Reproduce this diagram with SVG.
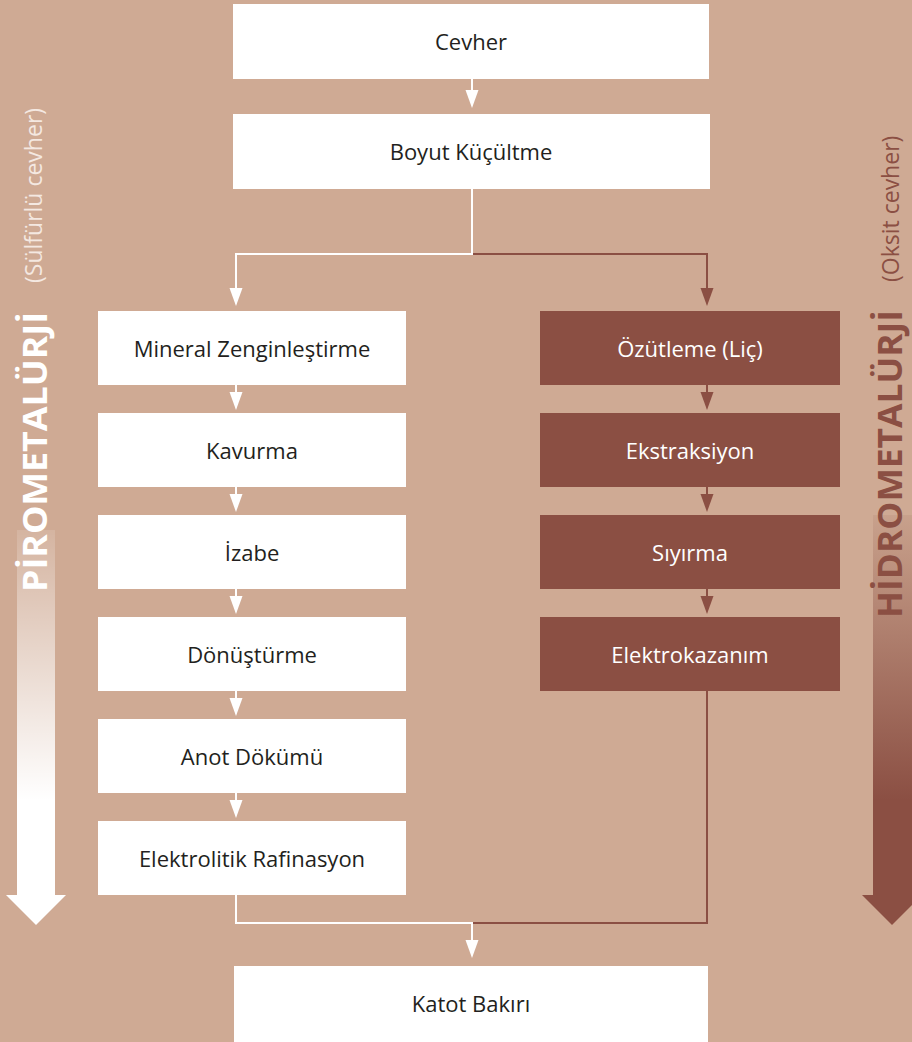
<svg xmlns="http://www.w3.org/2000/svg" width="912" height="1042" viewBox="0 0 912 1042">
<defs>
<style>
.bg{fill:#CFAA94}
.wbox{fill:#FFFFFF}
.bbox{fill:#8B4F43}
.t{font-family:"Open Sans","Noto Sans","DejaVu Sans",sans-serif;font-size:22px;text-anchor:middle}
.tw{fill:#231F20}
.tb{fill:#FFFFFF}
.wl{fill:none;stroke:#FFFFFF;stroke-width:2}
.bl{fill:none;stroke:#8B4F43;stroke-width:2}
.big{font-family:"Open Sans","Noto Sans","DejaVu Sans",sans-serif;font-weight:bold;font-size:34px}
.small{font-family:"Open Sans","Noto Sans","DejaVu Sans",sans-serif;font-size:23px}
</style>
<marker id="aw" markerUnits="userSpaceOnUse" markerWidth="18" markerHeight="14" refX="0" refY="7" orient="auto" viewBox="0 0 18 14"><path d="M0,0.5 L18,7 L0,13.5 Z" fill="#FFFFFF"/></marker>
<marker id="ab" markerUnits="userSpaceOnUse" markerWidth="18" markerHeight="14" refX="0" refY="7" orient="auto" viewBox="0 0 18 14"><path d="M0,0.5 L18,7 L0,13.5 Z" fill="#8B4F43"/></marker>
<linearGradient id="gl" gradientUnits="userSpaceOnUse" x1="0" y1="530" x2="0" y2="800">
<stop offset="0" stop-color="#FFFFFF" stop-opacity="0.12"/>
<stop offset="1" stop-color="#FFFFFF" stop-opacity="1"/>
</linearGradient>
<linearGradient id="gr" gradientUnits="userSpaceOnUse" x1="0" y1="515" x2="0" y2="800">
<stop offset="0" stop-color="#8B4F43" stop-opacity="0.1"/>
<stop offset="1" stop-color="#8B4F43" stop-opacity="1"/>
</linearGradient>
</defs>
<rect class="bg" x="0" y="0" width="912" height="1042"/>

<g id="side-left">
<rect x="17" y="530" width="38" height="366" fill="url(#gl)"/>
<polygon points="6,895 66,895 36,925" fill="#FFFFFF"/>
<text class="big" fill="#FFFFFF" transform="translate(47,592) rotate(-90)" textLength="280" lengthAdjust="spacingAndGlyphs">PİROMETALÜRJİ</text>
<text class="small" fill="#F4E8E1" transform="translate(42,283) rotate(-90)">(Sülfürlü cevher)</text>
</g>
<g id="side-right">
<rect x="873" y="515" width="39" height="381" fill="url(#gr)"/>
<polygon points="862,895 922,895 892,925" fill="#8B4F43"/>
<text class="big" fill="#8B4F43" transform="translate(902,618) rotate(-90)" textLength="308" lengthAdjust="spacingAndGlyphs">HİDROMETALÜRJİ</text>
<text class="small" fill="#8B4F43" transform="translate(899,282) rotate(-90)">(Oksit cevher)</text>
</g>

<g id="connectors">
<path class="wl" d="M472,79 V90" marker-end="url(#aw)"/>
<path class="bl" d="M472,254 H707 V288" marker-end="url(#ab)"/>
<path class="wl" d="M472,189 V254 H236 V288" marker-end="url(#aw)"/>
<path class="wl" d="M236,385 V392" marker-end="url(#aw)"/>
<path class="wl" d="M236,487 V494" marker-end="url(#aw)"/>
<path class="wl" d="M236,589 V596" marker-end="url(#aw)"/>
<path class="wl" d="M236,691 V698" marker-end="url(#aw)"/>
<path class="wl" d="M236,793 V800" marker-end="url(#aw)"/>
<path class="bl" d="M707,385 V392" marker-end="url(#ab)"/>
<path class="bl" d="M707,487 V494" marker-end="url(#ab)"/>
<path class="bl" d="M707,589 V596" marker-end="url(#ab)"/>
<path class="bl" d="M707,691 V923 H472"/>
<path class="wl" d="M236,895 V923 H472"/>
<path class="wl" d="M472,922 V940" marker-end="url(#aw)"/>
</g>

<g id="n-cevher"><rect class="wbox" x="233" y="4" width="476" height="75"/><text class="t tw" x="471" y="50">Cevher</text></g>
<g id="n-boyut"><rect class="wbox" x="233" y="114" width="477" height="75"/><text class="t tw" x="471" y="160">Boyut Küçültme</text></g>

<g id="n-mineral"><rect class="wbox" x="98" y="311" width="308" height="74"/><text class="t tw" x="252" y="357">Mineral Zenginleştirme</text></g>
<g id="n-kavurma"><rect class="wbox" x="98" y="413" width="308" height="74"/><text class="t tw" x="252" y="459">Kavurma</text></g>
<g id="n-izabe"><rect class="wbox" x="98" y="515" width="308" height="74"/><text class="t tw" x="252" y="561">İzabe</text></g>
<g id="n-donusturme"><rect class="wbox" x="98" y="617" width="308" height="74"/><text class="t tw" x="252" y="663">Dönüştürme</text></g>
<g id="n-anot"><rect class="wbox" x="98" y="719" width="308" height="74"/><text class="t tw" x="252" y="765">Anot Dökümü</text></g>
<g id="n-elektrolitik"><rect class="wbox" x="98" y="821" width="308" height="74"/><text class="t tw" x="252" y="867">Elektrolitik Rafinasyon</text></g>

<g id="n-ozutleme"><rect class="bbox" x="540" y="311" width="300" height="74"/><text class="t tb" x="690" y="357">Özütleme (Liç)</text></g>
<g id="n-ekstraksiyon"><rect class="bbox" x="540" y="413" width="300" height="74"/><text class="t tb" x="690" y="459">Ekstraksiyon</text></g>
<g id="n-siyirma"><rect class="bbox" x="540" y="515" width="300" height="74"/><text class="t tb" x="690" y="561">Sıyırma</text></g>
<g id="n-elektrokazanim"><rect class="bbox" x="540" y="617" width="300" height="74"/><text class="t tb" x="690" y="663">Elektrokazanım</text></g>

<g id="n-katot"><rect class="wbox" x="234" y="966" width="474" height="76"/><text class="t tw" x="471" y="1012">Katot Bakırı</text></g>
</svg>
